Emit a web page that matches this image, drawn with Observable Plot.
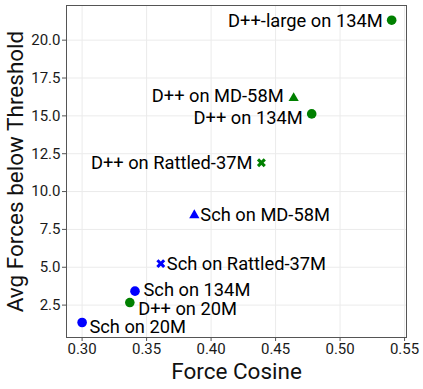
<!DOCTYPE html>
<html>
<head>
<meta charset="utf-8">
<script src="https://cdn.jsdelivr.net/npm/d3@7"></script>
<script src="https://cdn.jsdelivr.net/npm/@observablehq/plot@0.6"></script>
<style>
  html, body { margin: 0; padding: 0; background: #fff; }
  #chart svg { display: block; }
</style>
</head>
<body>
<div id="chart"></div>
<script>
// ---- data ----
const labels = ["Sch on 20M", "D++ on 20M", "Sch on 134M", "Sch on Rattled-37M", "Sch on MD-58M",
                "D++ on Rattled-37M", "D++ on 134M", "D++ on MD-58M", "D++-large on 134M"];
const models = ["Sch", "D++", "Sch", "Sch", "Sch", "D++", "D++", "D++", "D++"];
const datasets = ["20M", "20M", "134M", "Rattled-37M", "MD-58M", "Rattled-37M", "134M", "MD-58M", "134M"];
const forceCosine = [0.300, 0.337, 0.341, 0.361, 0.387, 0.439, 0.478, 0.464, 0.540];
const avgForces = [1.35, 2.67, 3.42, 5.24, 8.44, 11.9, 15.13, 16.17, 21.32];
const xTicks = [0.30, 0.35, 0.40, 0.45, 0.50, 0.55];
const yTicks = [2.5, 5.0, 7.5, 10.0, 12.5, 15.0, 17.5, 20.0];

const rows = labels.map((label, i) => ({
  label, model: models[i], dataset: datasets[i], x: forceCosine[i], y: avgForces[i]
}));

const colorOf = m => m === "Sch" ? "#0000ff" : "#008000";

// filled "X" marker
const symbolX = {
  draw(ctx, size) {
    const r = Math.sqrt(size / Math.PI);
    const w = r * 0.32;
    const pts = [[-w,-r],[w,-r],[w,-w],[r,-w],[r,w],[w,w],[w,r],[-w,r],[-w,w],[-r,w],[-r,-w],[-w,-w]]
      .map(([x, y]) => [(x - y) / Math.SQRT2, (x + y) / Math.SQRT2]);
    ctx.moveTo(pts[0][0], pts[0][1]);
    for (let k = 1; k < pts.length; k++) ctx.lineTo(pts[k][0], pts[k][1]);
    ctx.closePath();
  }
};

const circles = rows.filter(d => d.dataset === "20M" || d.dataset === "134M");
const triangles = rows.filter(d => d.dataset === "MD-58M");
const crosses = rows.filter(d => d.dataset === "Rattled-37M");

const byLabel = (...names) => rows.filter(d => names.includes(d.label));
const labelStyle = {x: "x", y: "y", text: "label", fontSize: 18.3, fill: "#000", lineAnchor: "middle"};

const chart = Plot.plot({
  width: 423,
  height: 389,
  marginLeft: 66,
  marginRight: 17,
  marginTop: 5,
  marginBottom: 52,
  style: {fontFamily: "Roboto, sans-serif", background: "#fff"},
  x: {domain: [0.2879, 0.5515]},
  y: {domain: [0.36, 22.29]},
  marks: [
    Plot.gridX(xTicks, {stroke: "#ebebeb", strokeOpacity: 1}),
    Plot.gridY(yTicks, {stroke: "#ebebeb", strokeOpacity: 1}),
    Plot.frame({stroke: "#555", strokeWidth: 1}),
    Plot.axisX(xTicks, {tickFormat: d3.format(".2f"), tickSize: 4, tickPadding: 2, fontSize: 15, stroke: "#555", color: "#1a1a1a", label: null}),
    Plot.axisY(yTicks, {tickFormat: d3.format(".1f"), tickSize: 4, tickPadding: 2, fontSize: 15, stroke: "#555", color: "#1a1a1a", label: null}),
    Plot.text(["Force Cosine"], {frameAnchor: "bottom", textAnchor: "middle", dy: 26, lineAnchor: "top", fontSize: 22.5, fill: "#111"}),
    Plot.text(["Avg Forces below Threshold"], {frameAnchor: "left", textAnchor: "middle", dx: -59, rotate: -90, lineAnchor: "top", fontSize: 22.5, fill: "#111"}),
    Plot.dot(circles, {x: "x", y: "y", r: 4.8, symbol: "circle", fill: d => colorOf(d.model), stroke: null}),
    Plot.dot(triangles, {x: "x", y: "y", r: 3.8, symbol: "triangle", fill: d => colorOf(d.model), stroke: null}),
    Plot.dot(crosses, {x: "x", y: "y", r: 4.8, symbol: symbolX, fill: d => colorOf(d.model), stroke: null}),
    // labels to the left of green markers
    Plot.text(byLabel("D++-large on 134M", "D++ on Rattled-37M"), {...labelStyle, textAnchor: "end", dx: -9, dy: 0.5}),
    Plot.text(byLabel("D++ on MD-58M"), {...labelStyle, textAnchor: "end", dx: -10, dy: -2.5}),
    Plot.text(byLabel("D++ on 134M"), {...labelStyle, textAnchor: "end", dx: -9, dy: 4}),
    // labels to the right
    Plot.text(byLabel("Sch on MD-58M", "Sch on Rattled-37M"), {...labelStyle, textAnchor: "start", dx: 6, dy: 0.3}),
    Plot.text(byLabel("Sch on 134M"), {...labelStyle, textAnchor: "start", dx: 8.5, dy: -1.3}),
    Plot.text(byLabel("D++ on 20M"), {...labelStyle, textAnchor: "start", dx: 8.3, dy: 6.6}),
    Plot.text(byLabel("Sch on 20M"), {...labelStyle, textAnchor: "start", dx: 7.3, dy: 4.3})
  ]
});
document.getElementById("chart").appendChild(chart);
</script>
</body>
</html>
